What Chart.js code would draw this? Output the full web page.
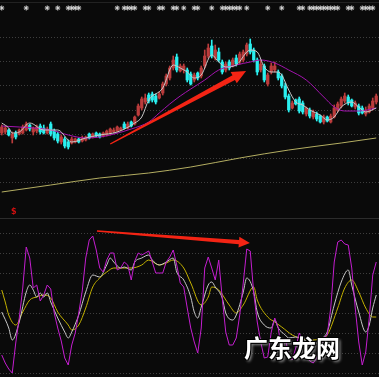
<!DOCTYPE html>
<html><head><meta charset="utf-8">
<script src="https://cdn.jsdelivr.net/npm/chart.js@4.4.1/dist/chart.umd.min.js"></script>
<style>
html,body{margin:0;padding:0;background:#0a0a0a;}
#wrap{position:relative;width:379px;height:377px;overflow:hidden;background:#0a0a0a;}
#topc{position:absolute;left:0;top:0;}
#botc{position:absolute;left:0;top:219px;}
#sep{position:absolute;left:0;top:218px;width:379px;height:1px;background:#2c2c2c;}
#topline{position:absolute;left:0;top:2px;width:379px;height:1px;background:#222;}
#lbl{position:absolute;left:11px;top:208px;color:#d01010;font:bold 8px "DejaVu Sans";line-height:8px;}
#wm{position:absolute;left:244px;top:335px;font:bold 24px "Noto Sans CJK SC";line-height:24px;color:#fff;white-space:nowrap;
 text-shadow:1px 1px 0 #000,-1px -1px 0 #000,1px -1px 0 #000,-1px 1px 0 #000,2px 2px 3px #999;}
</style></head>
<body>
<div id="wrap">
<canvas id="topc" width="379" height="218"></canvas>
<div id="topline"></div>
<div id="sep"></div>
<canvas id="botc" width="379" height="158"></canvas>
<div id="lbl">$</div>
<div id="wm">广东龙网</div>
</div>
<script>
// ---- data (price in price-units, oscillator in %) ----
const openP  = [167,168,170,162,167,166,167,170,175,168,169,174,172,167,176,169,166,158,161,158,157,158,161,159,160,166,163,167,166,164,165,167,168,169,170,176,172,178,176,185,192,198,205,206,204,202,207,216,222,232,243,229,230,230,226,220,227,224,234,244,254,242,248,238,230,238,234,242,238,240,246,256,250,240,230,234,216,228,230,228,224,214,204,192,200,201,197,186,190,183,186,184,178,183,178,183,190,194,199,203,200,193,194,192,186,188,192,198];
const closeP = [173,172,165,166,163,170,173,176,171,172,173,168,167,171,166,162,159,163,154,153,161,161,158,162,163,162,166,164,163,167,169,171,170,173,172,172,176,174,183,194,201,202,199,200,198,206,216,224,232,240,230,234,234,220,216,225,222,232,244,252,244,250,240,228,236,232,240,236,246,248,255,248,240,228,236,220,225,234,234,222,214,203,190,197,196,189,188,192,184,188,181,178,183,179,184,192,196,201,204,197,194,197,187,187,190,194,199,204];
const highP  = [175,174,171,168,169,171,175,178,176,173,175,176,175,173,178,171,168,165,163,160,163,162,162,164,164,167,167,168,167,168,170,172,172,174,173,178,178,179,184,196,203,206,207,208,206,208,218,226,234,244,246,236,236,232,228,227,228,234,250,256,260,255,252,240,238,240,242,245,248,250,257,261,252,242,240,236,227,237,238,230,226,217,206,199,201,203,199,193,192,190,188,185,185,184,186,195,198,203,207,205,201,199,196,194,193,196,202,206];
const lowP   = [165,166,164,157,161,165,166,169,169,165,167,166,166,166,164,160,157,156,152,151,156,157,157,158,159,161,162,163,162,163,164,165,167,168,169,171,171,173,175,184,190,196,197,198,196,201,205,214,220,230,228,228,227,218,215,218,220,222,232,242,242,240,238,226,228,230,233,234,236,238,244,246,238,225,228,218,214,226,228,220,212,201,188,191,195,187,186,184,182,181,179,177,176,178,177,182,188,192,197,195,193,191,185,186,184,187,190,196];
const days = openP.map((_, i) => i);

const maShortDays = [0,2,3,5,8,12,16,19,20,24,28,33,38,40,42,46,49,51,53,55,57,60,62,64,67,71,73,75,77,79,80,82,84,86,88,91,93,95,97,100,102,104,107];
const maShortVals = [177,172,167,168,177,170,170,160,158,162,165,168,177,183,200,212,235,232,228,222,225,245,238,233,235,250,248,233,228,228,225,210,198,195,190,185,180,183,193,198,193,188,192];
const maMidDays = [0,5,14,19,24,28,31,37,42,45,48,51,54,58,62,67,71,74,78,82,87,92,95,98,102,107];
const maMidVals = [174,173,170,165,162,163,165,171,178,187,196,204,211,220,230,235,238,240,237,230,220,203,193,189,189,192];
const maLongDays = [0,14,28,42,54,68,82,97,107];
const maLongVals = [108,115,122,127,133,142,150,157,162];

const signalDays = [0,7,13,16,19,20,21,22,33,35,36,37,38,41,42,45,46,49,50,52,55,56,60,63,64,65,66,67,68,70,76,80,85,86,88,89,90,91,92,93,94,95,96,99,100,103,104,105,106];

const jVals = [-22,-30,-36,-40,-10,15,45,86,75,45,48,32,38,48,44,20,5,-8,-25,-32,-12,0,20,42,75,93,97,83,65,61,73,80,80,63,65,71,68,53,72,80,78,80,82,71,60,60,60,71,76,83,68,50,46,25,5,-9,-20,5,65,76,65,53,73,35,1,-12,-12,-5,18,50,84,82,40,11,-9,-25,-24,1,15,5,-19,-5,-22,-27,-15,0,-8,-20,-28,-30,-25,-15,-5,-2,25,71,91,93,89,88,65,25,-9,-32,-19,15,58,71];
const kDays = [0,2,3,5,7,8,9,10,11,12,13,14,16,18,19,20,22,24,26,28,30,31,32,34,35,37,38,40,42,43,45,47,49,50,52,54,55,56,57,59,60,61,63,64,66,67,69,70,72,73,75,77,78,79,81,82,84,86,88,90,92,93,95,97,99,100,102,104,105,106,107];
const kVals = [21,5,-7,11,41,48,43,36,40,36,40,31,15,1,-5,1,18,41,58,56,68,75,71,65,66,63,71,75,78,73,68,71,75,61,53,36,21,15,26,48,51,46,35,20,13,18,41,55,41,21,8,5,13,5,-2,-5,-4,-6,-10,-10,-4,1,28,51,63,48,21,1,8,25,38];
const dDays = [0,1,2,4,6,8,10,12,14,16,19,20,22,24,26,28,30,32,35,37,40,42,45,47,49,52,54,57,59,60,62,65,67,69,72,73,76,78,80,83,85,88,91,93,96,98,100,102,104,106,107];
const dVals = [43,31,18,8,21,33,36,38,35,21,8,3,8,25,46,55,61,65,65,65,68,73,68,70,73,65,50,28,36,46,43,28,20,28,46,33,16,11,6,-2,-5,-7,-6,-2,25,45,53,41,25,16,16];

const upperGrid = [118,142,166,190,214,238,262];
const lowerGrid = [-40,-20,0,20,40,60,80,100];

// ---- styling ----
const UP = '#bb3c3c', DOWN = '#2af0f0';
const SIGNAL_LEVEL = 292;
Chart.defaults.animation = false;

const arrowPlugin = {
  id: 'arrows',
  afterDatasetsDraw(chart, args, opts) {
    const {ctx} = chart, xs = chart.scales.x, ys = chart.scales.y;
    (opts.list || []).forEach(a => {
      const x0 = xs.getPixelForValue(a.from[0]), y0 = ys.getPixelForValue(a.from[1]);
      const x1 = xs.getPixelForValue(a.to[0]), y1 = ys.getPixelForValue(a.to[1]);
      const dx = x1 - x0, dy = y1 - y0, len = Math.hypot(dx, dy);
      const ux = dx / len, uy = dy / len, nx = -uy, ny = ux;
      const bx = x1 - ux * a.head, by = y1 - uy * a.head;
      ctx.save();
      ctx.fillStyle = a.color;
      ctx.beginPath();
      ctx.moveTo(x0 + nx * a.tail, y0 + ny * a.tail);
      ctx.lineTo(bx + nx * a.shaft, by + ny * a.shaft);
      ctx.lineTo(bx + nx * a.half, by + ny * a.half);
      ctx.lineTo(x1, y1);
      ctx.lineTo(bx - nx * a.half, by - ny * a.half);
      ctx.lineTo(bx - nx * a.shaft, by - ny * a.shaft);
      ctx.lineTo(x0 - nx * a.tail, y0 - ny * a.tail);
      ctx.closePath();
      ctx.fill();
      ctx.restore();
    });
  }
};

function yAxis(min, max, grid) {
  return {
    min, max, display: true,
    border: {display: false, dash: [1, 2]},
    ticks: {display: false},
    grid: {color: '#3e3e3e', drawTicks: false, tickLength: 0, lineWidth: 1},
    afterBuildTicks: s => { s.ticks = grid.map(v => ({value: v})); }
  };
}
const xAxis = () => ({type: 'linear', min: -0.5, max: 107.79, offset: false, display: false, grid: {offset: false}});
const pts = (ds, vs) => ds.map((d, i) => ({x: d, y: vs[i]}));

new Chart(document.getElementById('topc'), {
  type: 'bar',
  data: {datasets: [
    {type: 'line', data: pts(maLongDays, maLongVals), borderColor: '#b4ae62', borderWidth: 1, pointRadius: 0, cubicInterpolationMode: 'monotone', order: 5},
    {type: 'bar', data: days.map(d => ({x: d, y: [lowP[d], highP[d]]})), barThickness: 1, grouped: false,
      backgroundColor: c => closeP[c.dataIndex] >= openP[c.dataIndex] ? UP : DOWN, order: 4},
    {type: 'bar', data: days.map(d => ({x: d, y: [openP[d], closeP[d]]})), barThickness: 2.6, grouped: false,
      backgroundColor: c => closeP[c.dataIndex] >= openP[c.dataIndex] ? UP : DOWN, order: 3},
    {type: 'line', data: pts(maMidDays, maMidVals), borderColor: '#a414b0', borderWidth: 1, pointRadius: 0, cubicInterpolationMode: 'monotone', order: 2},
    {type: 'line', data: pts(maShortDays, maShortVals), borderColor: '#c8c8c8', borderWidth: 1, pointRadius: 0, cubicInterpolationMode: 'monotone', order: 1},
    {type: 'line', data: signalDays.map(d => ({x: d, y: SIGNAL_LEVEL})), showLine: false, pointStyle: 'star', pointRadius: 2.5, borderColor: '#d8d8d8', borderWidth: 1, order: 0}
  ]},
  options: {
    responsive: false, animation: false, events: [],
    layout: {padding: 0, autoPadding: false},
    scales: {x: xAxis(), y: yAxis(82, 300, upperGrid)},
    plugins: {legend: {display: false}, tooltip: {enabled: false},
      arrows: {list: [{from: [31, 156], to: [69.8, 229], tail: 0.7, shaft: 2.6, half: 6.5, head: 14, color: '#f42414'}]}}
  },
  plugins: [arrowPlugin]
});

new Chart(document.getElementById('botc'), {
  type: 'line',
  data: {datasets: [
    {data: pts(dDays, dVals), borderColor: '#c4b200', borderWidth: 1, pointRadius: 0, cubicInterpolationMode: 'monotone', order: 3},
    {data: pts(kDays, kVals), borderColor: '#c8c8c8', borderWidth: 1, pointRadius: 0, cubicInterpolationMode: 'monotone', order: 2},
    {data: pts(days, jVals), borderColor: '#c41ed0', borderWidth: 1, pointRadius: 0, tension: 0, order: 1}
  ]},
  options: {
    responsive: false, animation: false, events: [],
    layout: {padding: 0, autoPadding: false},
    scales: {x: xAxis(), y: yAxis(-44, 114, lowerGrid)},
    plugins: {legend: {display: false}, tooltip: {enabled: false},
      arrows: {list: [{from: [27.2, 102], to: [70.9, 90], tail: 0.7, shaft: 2.2, half: 5.5, head: 11, color: '#f42414'}]}}
  },
  plugins: [arrowPlugin]
});
</script>
</body></html>
